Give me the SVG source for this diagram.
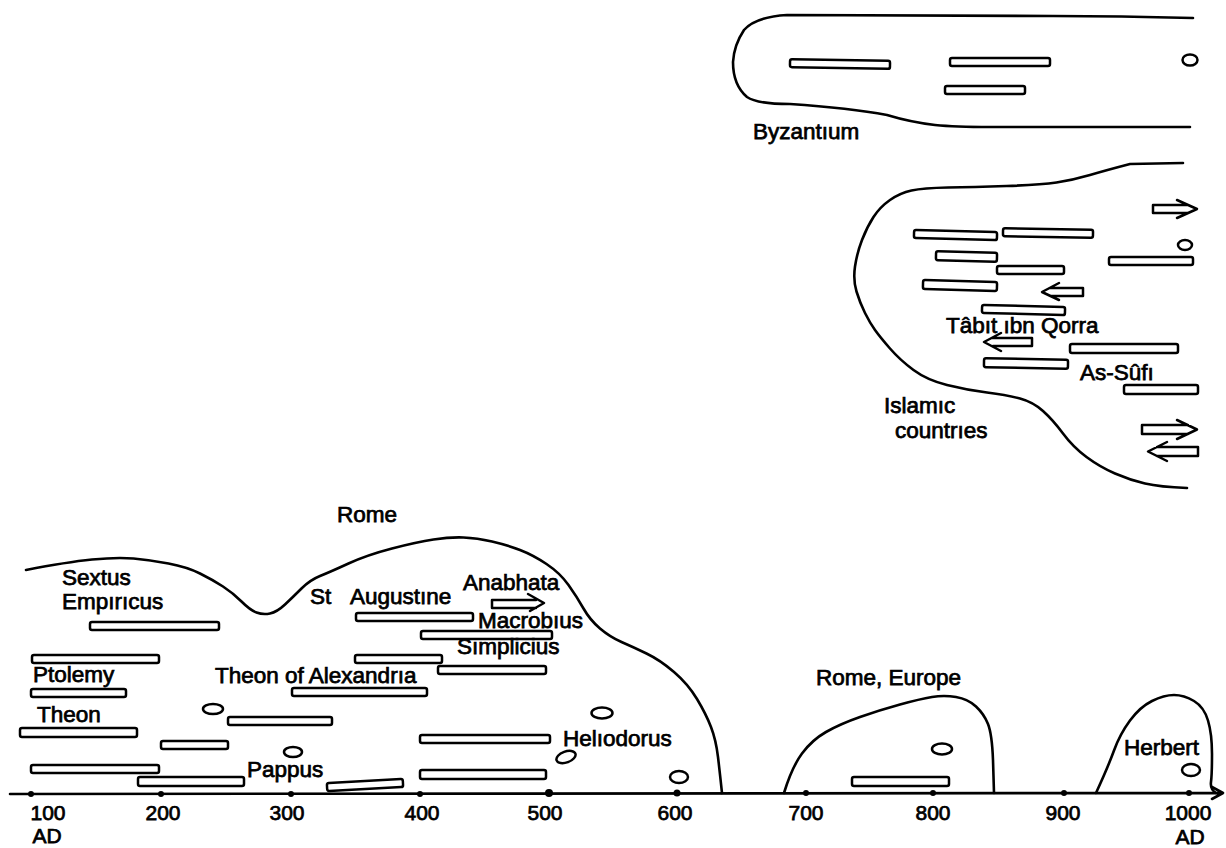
<svg xmlns="http://www.w3.org/2000/svg" width="1226" height="848" viewBox="0 0 1226 848">
<style>
.ln{fill:none;stroke:#000;stroke-width:2.6;stroke-linecap:round;stroke-linejoin:round}
.b{fill:#fff;stroke:#000;stroke-width:2.5}
.a{fill:none;stroke:#000;stroke-width:2.5;stroke-linejoin:round;stroke-linecap:round}
.t{font-family:"Liberation Sans",Arial,Helvetica,sans-serif;font-size:22.5px;fill:#000;stroke:#000;stroke-width:0.75}
.n{font-family:"Liberation Sans",Arial,Helvetica,sans-serif;font-size:21px;fill:#000;stroke:#000;stroke-width:0.75;text-anchor:middle}
.d{fill:#000}
</style>
<rect width="1226" height="848" fill="#fff"/>

<g id="connectors">
<path class="ln" d="M26,570 Q67,562 92,559.5 Q117,557 133.5,558.5 Q150,560 168.5,563.5 Q187,567 200,573.5 Q213,580 223,586.5 Q233,593 241.5,601.5 Q250,610 256.5,612.5 Q263,615 270,613.5 Q277,612 285,604.5 Q293,597 301.5,588.5 Q310,580 320,576 Q330,572 348.5,563.5 Q367,555 392,548.5 Q417,542 433.5,539.5 Q450,537 463.5,537.5 Q477,538 492,541.5 Q507,545 520,550 Q533,555 546.5,564 Q560,573 568.5,585 Q577,597 583.5,608.5 Q590,620 600,628.5 Q610,637 621.5,642 Q633,647 646.5,653.5 Q660,660 674,672 Q688,684 697,699 Q706,714 711,727 Q716,740 718,757 Q720,774 722,793"/>
<path class="ln" d="M1193,18 Q1120,16 1053,16 L787,15 Q755,17 744,30 Q734,45 733,62 Q733,85 747,97 Q757,104 790,104 Q850,108 887,115 Q910,122 935,125 Q955,127 990,127 L1190,127"/>
<path class="ln" d="M1183,163 L1130,164 Q1107,170 1090,175 Q1073,180 1056.5,182.5 Q1040,185 1006.5,186 Q973,187 948,187.5 Q923,188 911.5,190.5 Q900,193 890,200 Q880,207 873.5,217 Q867,227 862,240 Q857,253 855,266.5 Q853,280 856.5,291.5 Q860,303 865,313 Q870,323 875,330 Q880,337 890,348.5 Q900,360 913.5,370 Q927,380 947,385 Q967,390 987,392.5 Q1007,395 1020,398.5 Q1033,402 1043,411 Q1053,420 1063,433.5 Q1073,447 1086.5,457 Q1100,467 1115,473.5 Q1130,480 1145,483.5 Q1160,487 1187,488"/>
<path class="ln" d="M784,793 Q792,767 802,753.5 Q812,740 826,732 Q840,724 860,717 Q880,710 900,704.5 Q920,699 932,697 Q944,695 956,697 Q968,699 976,706.5 Q984,714 988,724 Q992,734 993,760 L994,793"/>
<path class="ln" d="M1096,793 Q1108,767 1114,750.5 Q1120,734 1130,720.5 Q1140,707 1152,701 Q1164,695 1174,695 Q1184,695 1194,701 Q1204,707 1208,720.5 Q1212,734 1212,754 Q1212,774 1211,782 Q1210,789 1216,793"/>
</g>

<g id="axis">
<path class="ln" d="M10,794 L1222,793 M1212,787 L1223,793 L1212,799"/>
<circle class="d" cx="31" cy="794" r="3"/>
<circle class="d" cx="161" cy="794" r="3"/>
<circle class="d" cx="291" cy="794" r="3"/>
<circle class="d" cx="420" cy="794" r="3"/>
<circle class="d" cx="549" cy="793" r="4"/>
<circle class="d" cx="677" cy="793" r="3.5"/>
<circle class="d" cx="806" cy="793" r="3"/>
<circle class="d" cx="933" cy="793" r="3"/>
<circle class="d" cx="1064" cy="793" r="3"/>
<circle class="d" cx="1189" cy="793" r="3"/>
<text class="n" x="48" y="820">100</text>
<text class="n" x="47" y="843">AD</text>
<text class="n" x="163" y="820">200</text>
<text class="n" x="287" y="820">300</text>
<text class="n" x="422" y="820">400</text>
<text class="n" x="545" y="820">500</text>
<text class="n" x="675" y="820">600</text>
<text class="n" x="806" y="820">700</text>
<text class="n" x="933" y="820">800</text>
<text class="n" x="1063" y="820">900</text>
<text class="n" x="1188" y="820">1000</text>
<text class="n" x="1190" y="844">AD</text>
</g>

<g id="byzantium">
<rect class="b" x="790" y="60" width="100" height="8" rx="2" transform="rotate(1 840 64)"/>
<rect class="b" x="950" y="58" width="100" height="8" rx="2"/>
<rect class="b" x="945" y="86" width="80" height="8" rx="2"/>
<ellipse class="b" cx="1190" cy="60" rx="7.5" ry="5.5"/>
<text class="t" x="753" y="139">Byzantıum</text>
</g>

<g id="islamic">
<path class="a" d="M1187,205 H1153 V213 H1187 M1177,200 L1197,209 L1177,218"/>
<rect class="b" x="914" y="231" width="83" height="8" rx="2" transform="rotate(1.5 955 235)"/>
<rect class="b" x="1003" y="229" width="90" height="8" rx="2" transform="rotate(1 1048 233)"/>
<ellipse class="b" cx="1185" cy="245" rx="7" ry="5"/>
<rect class="b" x="936" y="252" width="61" height="9" rx="2" transform="rotate(1.5 966 256)"/>
<rect class="b" x="1109" y="257" width="84" height="8" rx="2"/>
<rect class="b" x="997" y="266" width="67" height="8" rx="2"/>
<rect class="b" x="923" y="281" width="74" height="9" rx="2" transform="rotate(1.5 960 285)"/>
<path class="a" d="M1051,288 H1083 V296 H1051 M1059,283 L1042,292 L1059,300"/>
<rect class="b" x="982" y="306" width="83" height="8" rx="2" transform="rotate(1.5 1023 310)"/>
<path class="a" d="M993,338 H1032 V346 H993 M1001,333 L984,342 L1001,351"/>
<rect class="b" x="1070" y="344" width="108" height="9" rx="2"/>
<rect class="b" x="984" y="359" width="84" height="9" rx="2" transform="rotate(1 1026 363)"/>
<rect class="b" x="1124" y="385" width="74" height="9" rx="2"/>
<path class="a" d="M1188,425 H1142 V434 H1188 M1177,420 L1197,429.5 L1177,439"/>
<path class="a" d="M1157,447 H1198 V456 H1157 M1167,442 L1148,451.5 L1167,461"/>
<text class="t" x="946" y="333">Tâbıt ıbn Qorra</text>
<text class="t" x="1080" y="380">As-Sûfı</text>
<text class="t" x="884" y="413">Islamıc</text>
<text class="t" x="895" y="438">countrıes</text>
</g>

<g id="rome">
<rect class="b" x="90" y="622" width="129" height="8" rx="2"/>
<rect class="b" x="32" y="655" width="127" height="8" rx="2"/>
<rect class="b" x="31" y="689" width="95" height="8" rx="2"/>
<rect class="b" x="20" y="728" width="117" height="9" rx="2"/>
<rect class="b" x="161" y="741" width="67" height="8" rx="2"/>
<rect class="b" x="31" y="765" width="128" height="8" rx="2"/>
<rect class="b" x="138" y="777" width="106" height="9" rx="2"/>
<rect class="b" x="228" y="717" width="104" height="8" rx="2"/>
<rect class="b" x="292" y="688" width="135" height="8" rx="2"/>
<rect class="b" x="356" y="613" width="117" height="8" rx="2"/>
<rect class="b" x="421" y="631" width="131" height="8" rx="2"/>
<rect class="b" x="355" y="655" width="87" height="8" rx="2"/>
<rect class="b" x="438" y="666" width="108" height="8" rx="2"/>
<path class="a" d="M536,600 H492 V608 H536 M528,594 L544,603 L530,611"/>
<rect class="b" x="420" y="735" width="130" height="8" rx="2"/>
<rect class="b" x="420" y="770" width="126" height="9" rx="2"/>
<rect class="b" x="327" y="781" width="76" height="8" rx="2" transform="rotate(-3 365 785)"/>
<ellipse class="b" cx="213" cy="709" rx="10" ry="5"/>
<ellipse class="b" cx="293" cy="752" rx="9" ry="5"/>
<ellipse class="b" cx="602" cy="713" rx="10.5" ry="5.5"/>
<ellipse class="b" cx="566" cy="757" rx="10" ry="5.5" transform="rotate(-20 566 757)"/>
<ellipse class="b" cx="679" cy="777" rx="9" ry="6"/>
<text class="t" x="337" y="522">Rome</text>
<text class="t" x="62" y="585">Sextus</text>
<text class="t" x="62" y="609">Empırıcus</text>
<text class="t" x="310" y="604">St</text>
<text class="t" x="350" y="604">Augustıne</text>
<text class="t" x="463" y="590">Anabhata</text>
<text class="t" x="478" y="628">Macrobıus</text>
<text class="t" x="457" y="654">Sımplicius</text>
<text class="t" x="33" y="682">Ptolemy</text>
<text class="t" x="215" y="683">Theon of Alexandrıa</text>
<text class="t" x="37" y="722">Theon</text>
<text class="t" x="563" y="746">Helıodorus</text>
<text class="t" x="247" y="777">Pappus</text>
</g>

<g id="rome-europe">
<ellipse class="b" cx="942" cy="749" rx="10" ry="5.5"/>
<rect class="b" x="852" y="777" width="97" height="9" rx="2"/>
<text class="t" x="816" y="685">Rome, Europe</text>
</g>

<g id="herbert">
<ellipse class="b" cx="1191" cy="770" rx="9" ry="6"/>
<text class="t" x="1124" y="755">Herbert</text>
</g>
</svg>
